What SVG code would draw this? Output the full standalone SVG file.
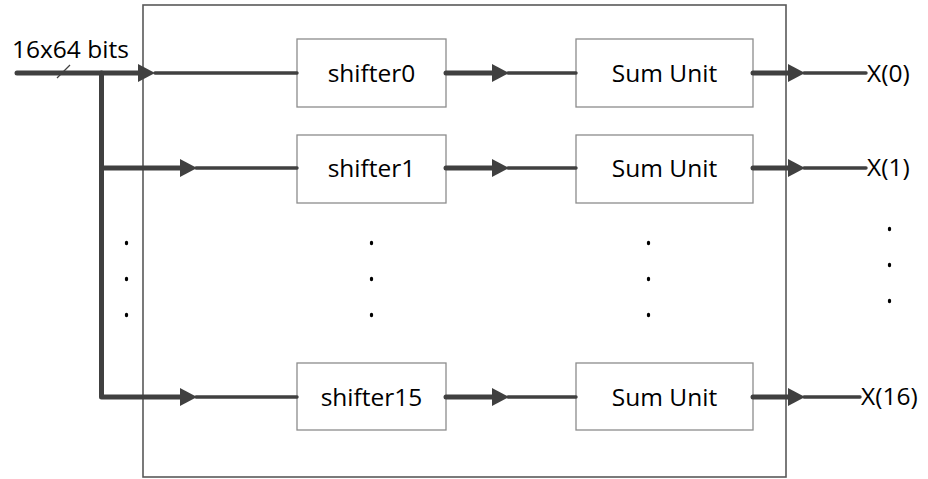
<svg xmlns="http://www.w3.org/2000/svg" width="928" height="479" viewBox="0 0 928 479">
  <style>
    .frame { fill: #ffffff; stroke: #595959; stroke-width: 1.6; }
    .box { fill: #ffffff; stroke: #8c8c8c; stroke-width: 1.3; }
    .lbl { font-family: "Open Sans", "Liberation Sans", sans-serif; font-size: 24.5px; fill: #000000; }
    .mid { text-anchor: middle; }
    .thick { fill: none; stroke: #404040; stroke-width: 5; stroke-linecap: round; stroke-linejoin: round; }
    .thin { fill: none; stroke: #404040; stroke-width: 3.4; stroke-linecap: round; }
    .tick { fill: none; stroke: #404040; stroke-width: 1.2; }
    .dot { fill: #000000; }
  </style>
  <defs>
    <marker id="arrow" viewBox="0 0 17 18" refX="0" refY="9" markerWidth="17" markerHeight="18" markerUnits="userSpaceOnUse" orient="auto">
      <path d="M0,0 L17,9 L0,18 Z" fill="#404040"/>
    </marker>
  </defs>

  <!-- enclosing block -->
  <g id="block">
    <rect class="frame" x="143" y="5" width="643" height="472"/>
  </g>

  <!-- shifter stages -->
  <g id="shifter0">
    <rect class="box" x="297" y="39" width="149" height="68"/>
    <text class="lbl mid" x="371.5" y="82">shifter0</text>
  </g>
  <g id="shifter1">
    <rect class="box" x="297" y="135" width="149" height="68"/>
    <text class="lbl mid" x="371.5" y="177">shifter1</text>
  </g>
  <g id="shifter15">
    <rect class="box" x="297" y="363" width="149" height="67"/>
    <text class="lbl mid" x="371.5" y="406">shifter15</text>
  </g>

  <!-- sum units -->
  <g id="sum0">
    <rect class="box" x="576" y="39" width="177" height="68"/>
    <text class="lbl mid" x="664.5" y="82">Sum Unit</text>
  </g>
  <g id="sum1">
    <rect class="box" x="576" y="135" width="177" height="68"/>
    <text class="lbl mid" x="664.5" y="177">Sum Unit</text>
  </g>
  <g id="sum15">
    <rect class="box" x="576" y="363" width="177" height="67"/>
    <text class="lbl mid" x="664.5" y="406">Sum Unit</text>
  </g>

  <!-- input / output labels -->
  <g id="input-label">
    <text class="lbl" x="12" y="58">16x64 bits</text>
  </g>
  <g id="out0"><text class="lbl" x="867" y="82">X(0)</text></g>
  <g id="out1"><text class="lbl" x="867" y="176">X(1)</text></g>
  <g id="out15"><text class="lbl" x="861" y="405">X(16)</text></g>

  <!-- elided rows -->
  <g id="ellipsis">
    <ellipse class="dot" cx="126.5" cy="243" rx="1.7" ry="2.2"/>
    <ellipse class="dot" cx="126.5" cy="279" rx="1.7" ry="2.2"/>
    <ellipse class="dot" cx="126.5" cy="315" rx="1.7" ry="2.2"/>
    <ellipse class="dot" cx="371.5" cy="243" rx="1.7" ry="2.2"/>
    <ellipse class="dot" cx="371.5" cy="279" rx="1.7" ry="2.2"/>
    <ellipse class="dot" cx="371.5" cy="315" rx="1.7" ry="2.2"/>
    <ellipse class="dot" cx="648.5" cy="243" rx="1.7" ry="2.2"/>
    <ellipse class="dot" cx="648.5" cy="279" rx="1.7" ry="2.2"/>
    <ellipse class="dot" cx="648.5" cy="315" rx="1.7" ry="2.2"/>
    <ellipse class="dot" cx="889.5" cy="229" rx="1.7" ry="2.2"/>
    <ellipse class="dot" cx="889.5" cy="265" rx="1.7" ry="2.2"/>
    <ellipse class="dot" cx="889.5" cy="301" rx="1.7" ry="2.2"/>
  </g>

  <!-- connectors -->
  <g id="connectors">
    <!-- input bus and fan-out -->
    <path class="thick" d="M17,73 H138" marker-end="url(#arrow)"/>
    <path class="thin" d="M155,73 H297"/>
    <path class="tick" d="M57,78 L70,65"/>
    <path class="thick" d="M101.5,73 V397 H180" marker-end="url(#arrow)"/>
    <path class="thin" d="M196,397 H297"/>
    <path class="thick" d="M101.5,168 H180" marker-end="url(#arrow)"/>
    <path class="thin" d="M196,168 H297"/>

    <!-- shifter to sum unit -->
    <path class="thick" d="M446,73 H492" marker-end="url(#arrow)"/>
    <path class="thin" d="M508,73 H576"/>
    <path class="thick" d="M446,168 H492" marker-end="url(#arrow)"/>
    <path class="thin" d="M508,168 H576"/>
    <path class="thick" d="M446,397 H492" marker-end="url(#arrow)"/>
    <path class="thin" d="M508,397 H576"/>

    <!-- sum unit outputs -->
    <path class="thick" d="M753,73 H788" marker-end="url(#arrow)"/>
    <path class="thin" d="M804,73 H866"/>
    <path class="thick" d="M753,168 H788" marker-end="url(#arrow)"/>
    <path class="thin" d="M804,168 H866"/>
    <path class="thick" d="M753,397 H788" marker-end="url(#arrow)"/>
    <path class="thin" d="M804,397 H860"/>
  </g>
</svg>
